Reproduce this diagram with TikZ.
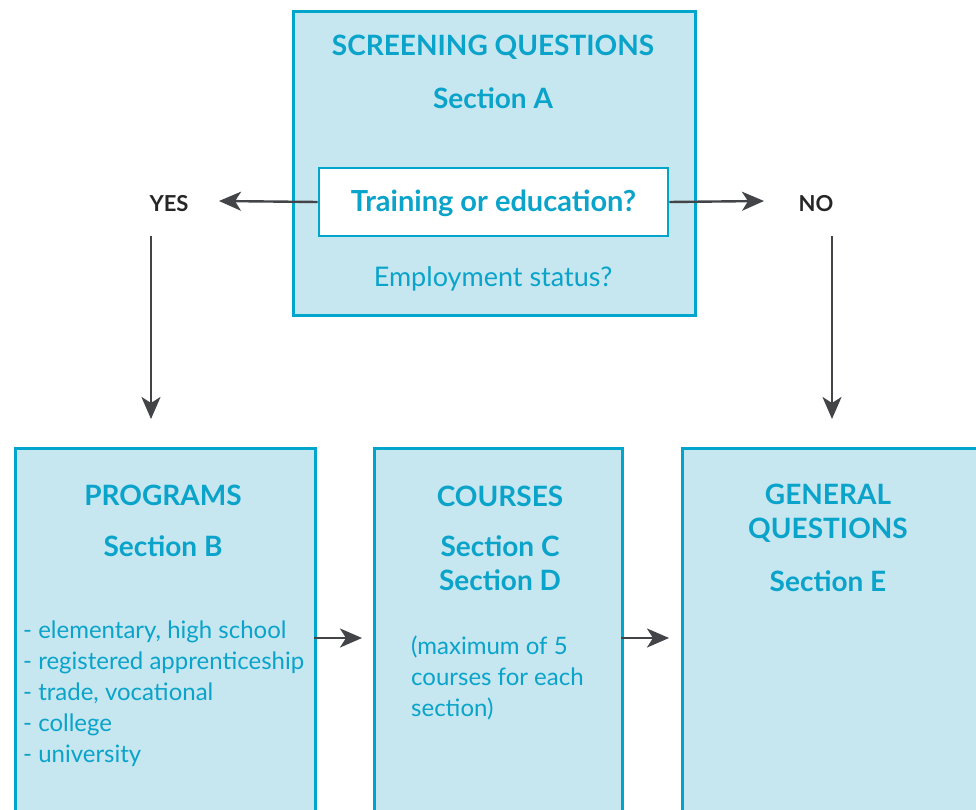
\documentclass[tikz,border=0pt]{standalone}
\usepackage{fontspec}
\setmainfont{Lato}
\usetikzlibrary{arrows.meta}
\definecolor{cyanline}{HTML}{00A5CC}
\definecolor{cyanfill}{HTML}{C6E6F0}
\definecolor{cyantext}{HTML}{0AA3CA}
\definecolor{arrowgray}{HTML}{424448}
\tikzset{
  panel/.style={draw=cyanline, fill=cyanfill, line width=2.6pt, anchor=north west, inner sep=0pt},
  innerbox/.style={draw=cyanline, fill=white, line width=2.6pt, inner sep=0pt},
  head/.style={text=cyantext, font=\fontsize{28}{34}\selectfont\bfseries, align=center, inner sep=0pt},
  body/.style={text=cyantext, font=\fontsize{24}{31}\selectfont, inner sep=0pt},
  lbl/.style={text=black!85, font=\fontsize{22}{26}\selectfont\bfseries, inner sep=0pt},
  conn/.style={draw=arrowgray, line width=2.4pt, -{Stealth[length=22pt,width=19pt,inset=6pt]}}
}
\begin{document}
\begin{tikzpicture}[x=1pt,y=-1pt]
\clip (0,0) rectangle (976,810);
\fill[white] (0,0) rectangle (976,810);
% top panel
\node[panel, minimum width=402pt, minimum height=304pt] (top) at (292,10) {};
\node[head] (sq) at (493,47) {SCREENING QUESTIONS};
\node[head] (secA) at (493,98) {Section A};
\node[innerbox, minimum width=349pt, minimum height=68pt] (train) at (493.5,202) {};
\node[head, font=\fontsize{29}{34}\selectfont\bfseries] (traintxt) at (493.5,203) {Training or education?};
\node[body, font=\fontsize{27}{32}\selectfont] (emp) at (493,279) {Employment status?};
% yes / no
\node[lbl] (yes) at (169,204) {YES};
\node[lbl] (no) at (816,204) {NO};
\coordinate (yesend) at (219,201);
\coordinate (noend) at (764,201);
\draw[conn] (train.west) -- (yesend);
\draw[conn] (train.east) -- (noend);
\coordinate (yesdown1) at (151,236);
\coordinate (yesdown2) at (151,419);
\coordinate (nodown1) at (832,236);
\coordinate (nodown2) at (832,419);
\draw[conn] (yesdown1) -- (yesdown2);
\draw[conn] (nodown1) -- (nodown2);
% bottom panels
\node[panel, minimum width=300pt, minimum height=400pt] (prog) at (14,447) {};
\node[panel, minimum width=248pt, minimum height=400pt] (course) at (373,447) {};
\node[panel, minimum width=320pt, minimum height=400pt] (gen) at (681,447) {};
% programs text
\node[head] (progt) at (163,495) {PROGRAMS};
\node[head] (secB) at (163,546) {Section B};
\node[body, anchor=north west, align=left] (list) at (23,621) {- elementary, high school\\- registered apprenticeship\\- trade, vocational\\- college\\- university};
% courses text
\node[head] (courst) at (500,496) {COURSES};
\node[head] (secCD) at (500,563) {Section C\\Section D};
\node[body, anchor=north west, align=left] (maxi) at (411,636) {(maximum of 5\\courses for each\\section)};
% general text
\node[head] (gent) at (828,513) {GENERAL\\QUESTIONS};
\node[head] (secE) at (828,581) {Section E};
% horizontal arrows
\coordinate (a1s) at (314,638);
\coordinate (a1e) at (362,638);
\coordinate (a2s) at (621,638);
\coordinate (a2e) at (669,638);
\draw[conn] (a1s) -- (a1e);
\draw[conn] (a2s) -- (a2e);
\end{tikzpicture}
\end{document}
